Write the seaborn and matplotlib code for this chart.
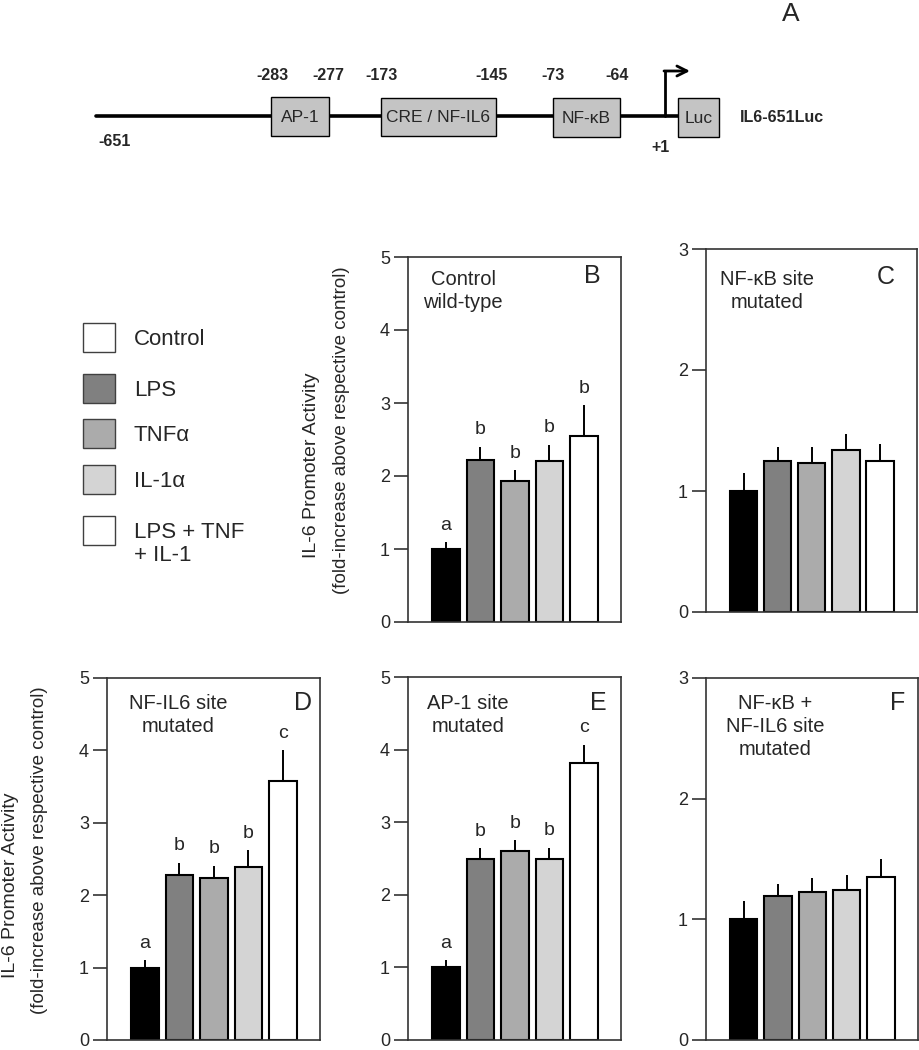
import numpy as np
import pandas as pd
import seaborn as sns
import matplotlib.pyplot as plt
from matplotlib.patches import Rectangle

sns.set_style("ticks")
plt.rcParams['font.family'] = ['Liberation Sans', 'DejaVu Sans']

W, H = 919, 1050

conditions = ["Control", "LPS", "TNFα", "IL-1α", "LPS + TNF\n+ IL-1"]
bar_colors = ["#000000", "#808080", "#ababab", "#d4d4d4", "#ffffff"]
legend_colors = ["#ffffff", "#808080", "#ababab", "#d4d4d4", "#ffffff"]

# fold increase (mean) and SEM per panel
b_mean = [1.0, 2.22, 1.93, 2.21, 2.55]
b_sem = [0.09, 0.18, 0.15, 0.22, 0.42]
b_letters = ["a", "b", "b", "b", "b"]

c_mean = [1.0, 1.25, 1.23, 1.34, 1.25]
c_sem = [0.15, 0.115, 0.13, 0.135, 0.14]

d_mean = [1.0, 2.28, 2.24, 2.39, 3.58]
d_sem = [0.10, 0.17, 0.17, 0.23, 0.42]
d_letters = ["a", "b", "b", "b", "c"]

e_mean = [1.0, 2.50, 2.60, 2.49, 3.81]
e_sem = [0.10, 0.14, 0.15, 0.16, 0.26]
e_letters = ["a", "b", "b", "b", "c"]

f_mean = [1.0, 1.19, 1.225, 1.245, 1.35]
f_sem = [0.15, 0.10, 0.115, 0.125, 0.15]

# promoter construct
site_names = ["AP-1", "CRE / NF-IL6", "NF-\u03baB", "Luc"]
site_marks = ["-283", "-277", "-173", "-145", "-73", "-64"]

fig = plt.figure(figsize=(W / 100, H / 100), dpi=100)

# overlay in pixel coordinates for the schematic, legend and labels
ov = fig.add_axes([0, 0, 1, 1])
ov.set_xlim(0, W)
ov.set_ylim(H, 0)
ov.axis("off")
ov.set_zorder(5)


def lines_text(x, y, text, step, **kw):
    # draw each line on its own baseline, first line at y
    for k, part in enumerate(text.split("\n")):
        ov.text(x, y + k * step, part, va="baseline", **kw)


# --- promoter schematic ---
ov.plot([96, 678], [116, 116], color="black", lw=2.6, zorder=1)
boxes = [(271, 97, 329, 136), (381, 98, 496, 136), (553, 98, 620, 137), (678, 98, 719, 137)]
for (x0, y0, x1, y1), name in zip(boxes, site_names):
    ov.add_patch(Rectangle((x0, y0), x1 - x0, y1 - y0, facecolor="#c4c4c4",
                           edgecolor="black", lw=1.0, zorder=2))
    ov.text((x0 + x1) / 2, (y0 + y1) / 2 + 1, name, ha="center", va="center", fontsize=12.5)
for x, lab in zip([272, 328, 381, 492, 553, 617], site_marks):
    ov.text(x, 76, lab, ha="center", va="center", fontsize=11.5, fontweight="bold")
ov.text(115, 141, "-651", ha="center", va="center", fontsize=11.5, fontweight="bold")
ov.text(661, 148, "+1", ha="center", va="center", fontsize=11.5, fontweight="bold")
ov.text(740, 118, "IL6-651Luc", ha="left", va="center", fontsize=11.5, fontweight="bold")
ov.plot([665, 665], [116, 71], color="black", lw=2.0)
ov.annotate("", xy=(690, 71), xytext=(664, 71),
            arrowprops=dict(arrowstyle="->", lw=2.0, color="black",
                            mutation_scale=18, shrinkA=0, shrinkB=0))
ov.text(791, 14, "A", ha="center", va="center", fontsize=19)

# --- legend ---
leg_y = [323, 374, 419, 465, 516]
for y, col, lab in zip(leg_y, legend_colors, conditions):
    ov.add_patch(Rectangle((83, y), 32, 29, facecolor=col, edgecolor="#404040", lw=1.0))
    lines_text(134, y + 22, lab, 23, ha="left", fontsize=16)


def add_panel(box, means, sems, ymax, letter, letter_xy, note, note_xy, letters=None):
    l, t, r, b = box
    ax = fig.add_axes([l / W, 1 - b / H, (r - l) / W, (b - t) / H])
    df = pd.DataFrame({"condition": conditions, "value": means})
    sns.barplot(data=df, x="condition", y="value", hue="condition", palette=bar_colors,
                edgecolor="black", linewidth=1.5, width=0.8, legend=False, ax=ax)
    ax.errorbar(np.arange(len(means)), means, yerr=[np.zeros(len(sems)), sems],
                fmt="none", ecolor="black", elinewidth=1.4, capsize=0, zorder=1)
    ax.set_xlim(-1.1, 5.08)
    ax.set_ylim(0, ymax)
    ax.set_yticks(range(ymax + 1))
    ax.set_xticks([])
    ax.set_xlabel("")
    ax.set_ylabel("")
    for s in ax.spines.values():
        s.set_visible(True)
        s.set_color("#333333")
        s.set_linewidth(1.2)
    ax.tick_params(axis="y", direction="out", length=10, width=1.2, labelsize=13,
                   pad=3, color="#333333")
    if letters:
        for i, (m, e, lt) in enumerate(zip(means, sems, letters)):
            ax.annotate(lt, (i, m + e), xytext=(0, 9), textcoords="offset points",
                        ha="center", va="baseline", fontsize=14)
    ov.text(letter_xy[0], letter_xy[1], letter, ha="center", va="center", fontsize=18)
    lines_text(note_xy[0], note_xy[1], note, 23, ha="center", fontsize=14.5)
    return ax


add_panel((408, 257, 621, 622), b_mean, b_sem, 5, "B", (592, 276),
          "Control\nwild-type", (463, 285), b_letters)
add_panel((706, 249, 917, 612), c_mean, c_sem, 3, "C", (886, 277),
          "NF-\u03baB site\nmutated", (767, 285))
add_panel((107, 678, 320, 1040), d_mean, d_sem, 5, "D", (303, 703),
          "NF-IL6 site\nmutated", (178, 709), d_letters)
add_panel((408, 677, 621, 1040), e_mean, e_sem, 5, "E", (598, 703),
          "AP-1 site\nmutated", (468, 709), e_letters)
add_panel((706, 678, 918, 1040), f_mean, f_sem, 3, "F", (898, 703),
          "NF-\u03baB +\nNF-IL6 site\nmutated", (775, 709))

# y-axis titles
for x1, y1, x2, y2 in [(312, 465, 341, 430), (11, 885, 40, 850)]:
    ov.text(x1, y1, "IL-6 Promoter Activity", rotation=90, ha="center", va="center",
            fontsize=14)
    ov.text(x2, y2, "(fold-increase above respective control)", rotation=90,
            ha="center", va="center", fontsize=13.5)

fig.savefig("out.png", dpi=100)
